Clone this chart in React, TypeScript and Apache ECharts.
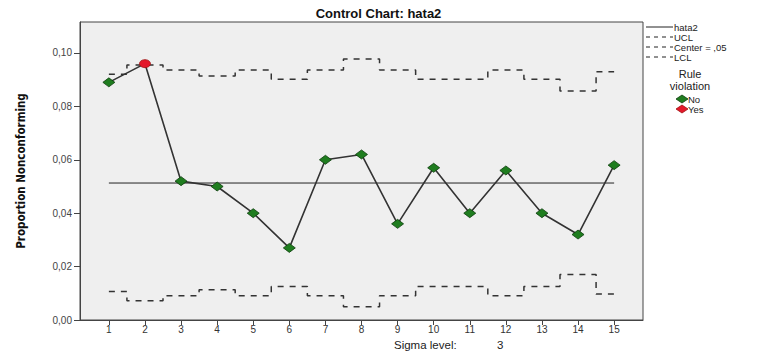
import React, { useEffect, useRef } from "react";
import * as echarts from "echarts";

const samples = [1, 2, 3, 4, 5, 6, 7, 8, 9, 10, 11, 12, 13, 14, 15];
const proportion = [0.089, 0.096, 0.052, 0.050, 0.040, 0.027, 0.060, 0.062, 0.036, 0.057, 0.040, 0.056, 0.040, 0.032, 0.058];
const violation = [false, true, false, false, false, false, false, false, false, false, false, false, false, false, false];
const ucl = [0.092, 0.0955, 0.0936, 0.0914, 0.0936, 0.0902, 0.0936, 0.0977, 0.0936, 0.0902, 0.0902, 0.0936, 0.0902, 0.0858, 0.0930];
const lcl = [0.0107, 0.0072, 0.0091, 0.0113, 0.0091, 0.0125, 0.0091, 0.0050, 0.0091, 0.0125, 0.0125, 0.0091, 0.0125, 0.0170, 0.0097];
const center = 0.0513;
const yTicks = [0, 0.02, 0.04, 0.06, 0.08, 0.1];

const GREEN = "#1f7d1f";
const RED = "#e3182a";
const FONT = "'Liberation Sans', Arial, sans-serif";

export default function App() {
  const ref = useRef<HTMLDivElement>(null);
  useEffect(() => {
    const chart = echarts.init(ref.current!, null, { renderer: "svg" });
    const fmt = (v: number) => v.toFixed(2).replace(".", ",");
    const lx = 646;
    const legendText = (y: number, text: string) => ({
      type: "text",
      x: lx + 28,
      y,
      style: { text, fontFamily: FONT, fontSize: 9.5, fill: "#222", textVerticalAlign: "middle" },
    });
    const legendLine = (y: number, dashed: boolean) => ({
      type: "line",
      shape: { x1: lx, y1: y, x2: lx + 27, y2: y },
      style: { stroke: "#222", lineWidth: 1, lineDash: dashed ? [4, 4] : null },
    });
    chart.setOption({
      animation: false,
      backgroundColor: "#ffffff",
      title: {
        text: "Control Chart: hata2",
        left: "center",
        top: 2,
        textStyle: { fontFamily: FONT, fontSize: 13, fontWeight: "bold", color: "#111" },
      },
      grid: {
        left: 80,
        top: 22,
        right: 114,
        bottom: 34,
        show: true,
        backgroundColor: "#efefef",
        borderColor: "#444",
        borderWidth: 1,
      },
      xAxis: {
        type: "value",
        min: 0.2,
        max: 15.8,
        axisLine: { show: true, lineStyle: { color: "#444" } },
        axisTick: { show: true, length: 5, customValues: samples, lineStyle: { color: "#444" } },
        axisLabel: {
          customValues: samples,
          fontFamily: FONT,
          fontSize: 10,
          color: "#333",
          margin: 4,
        },
        splitLine: { show: false },
      },
      yAxis: {
        type: "value",
        min: 0,
        max: 0.1116,
        name: "Proportion Nonconforming",
        nameLocation: "middle",
        nameGap: 53,
        nameTextStyle: {
          fontFamily: "'DejaVu Sans Condensed', 'Liberation Sans Narrow', sans-serif",
          fontSize: 11.5,
          fontWeight: "bold",
          color: "#111",
        },
        axisLine: { show: true, lineStyle: { color: "#444" } },
        axisTick: { show: true, length: 6, customValues: yTicks, lineStyle: { color: "#444" } },
        axisLabel: {
          customValues: yTicks,
          formatter: fmt,
          fontFamily: FONT,
          fontSize: 10,
          color: "#444",
          margin: 8,
        },
        splitLine: { show: false },
      },
      series: [
        {
          name: "UCL",
          type: "line",
          step: "middle",
          data: samples.map((x, i) => [x, ucl[i]]),
          symbol: "none",
          lineStyle: { color: "#333", width: 1.5, type: [6, 6] },
          z: 2,
        },
        {
          name: "LCL",
          type: "line",
          step: "middle",
          data: samples.map((x, i) => [x, lcl[i]]),
          symbol: "none",
          lineStyle: { color: "#333", width: 1.5, type: [6, 6] },
          z: 2,
        },
        {
          name: "Center",
          type: "line",
          data: [samples[0], samples[samples.length - 1]].map((x) => [x, center]),
          symbol: "none",
          lineStyle: { color: "#222", width: 1 },
          z: 2,
        },
        {
          name: "hata2",
          type: "line",
          data: samples.map((x, i) => ({
            value: [x, proportion[i]],
            symbol: violation[i] ? "circle" : "diamond",
            symbolSize: violation[i] ? [11, 8] : [12, 9],
            itemStyle: {
              color: violation[i] ? RED : GREEN,
              borderColor: violation[i] ? "#a01010" : "#0c3d0c",
              borderWidth: 0.8,
            },
          })),
          lineStyle: { color: "#333", width: 1.6 },
          z: 3,
        },
      ],
      graphic: [
        legendLine(27, false),
        legendText(27, "hata2"),
        legendLine(37, true),
        legendText(37, "UCL"),
        legendLine(47, true),
        legendText(47, "Center = ,05"),
        legendLine(57, true),
        legendText(57, "LCL"),
        { type: "text", x: 690, y: 74, style: { text: "Rule", fontFamily: FONT, fontSize: 11, fill: "#222", textAlign: "center", textVerticalAlign: "middle" } },
        { type: "text", x: 690, y: 86, style: { text: "violation", fontFamily: FONT, fontSize: 11, fill: "#222", textAlign: "center", textVerticalAlign: "middle" } },
        { type: "polygon", shape: { points: [[676, 99], [682, 95], [688, 99], [682, 103]] }, style: { fill: GREEN, stroke: "#0c3d0c", lineWidth: 0.8 } },
        { type: "text", x: 688, y: 99, style: { text: "No", fontFamily: FONT, fontSize: 9.5, fill: "#222", textVerticalAlign: "middle" } },
        { type: "polygon", shape: { points: [[676, 109], [682, 105], [688, 109], [682, 113]] }, style: { fill: RED, stroke: "#a01010", lineWidth: 0.8 } },
        { type: "text", x: 688, y: 109, style: { text: "Yes", fontFamily: FONT, fontSize: 9.5, fill: "#222", textVerticalAlign: "middle" } },
        { type: "text", x: 394, y: 345, style: { text: "Sigma level:", fontFamily: FONT, fontSize: 11.5, fill: "#222", textVerticalAlign: "middle" } },
        { type: "text", x: 497, y: 345, style: { text: "3", fontFamily: FONT, fontSize: 11.5, fill: "#222", textVerticalAlign: "middle" } },
      ],
    });
    return () => chart.dispose();
  }, []);
  return (
    <div
      ref={ref}
      style={{ position: "fixed", left: 0, top: 0, width: 757, height: 354 }}
    />
  );
}
